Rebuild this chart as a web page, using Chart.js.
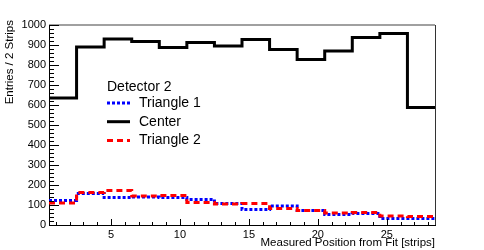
<!DOCTYPE html>
<html>
<head>
<meta charset="utf-8">
<script src="https://cdn.jsdelivr.net/npm/chart.js@4.4.1/dist/chart.umd.min.js"></script>
<style>
  html, body { margin: 0; padding: 0; background: #fff; }
</style>
</head>
<body>
<canvas id="myChart" width="484" height="250"></canvas>
<script>
// bin edges (2 strips per bin) and histogram contents
const binEdges = [0.5, 2.5, 4.5, 6.5, 8.5, 10.5, 12.5, 14.5, 16.5, 18.5, 20.5, 22.5, 24.5, 26.5, 28.5];
const center    = [635, 890, 930, 917, 887, 913, 895, 928, 878, 828, 870, 937, 957, 587];
const triangle1 = [122, 158, 137, 140, 137, 128, 107, 77, 95, 73, 53, 58, 33, 33];
const triangle2 = [110, 163, 173, 145, 147, 113, 105, 108, 82, 72, 60, 63, 45, 42];
const xTickLabels = [5, 10, 15, 20, 25];
const legendTitle = 'Detector 2';

const FONT = '"Liberation Sans", Arial, sans-serif';

// step points: value of each bin starts at its left edge, last one repeated at the right edge
function toSteps(vals) {
  return binEdges.map((e, i) => ({ x: e, y: vals[Math.min(i, vals.length - 1)] }));
}

const ctx = document.getElementById('myChart');

// ROOT-like frame, inner ticks, axis titles and legend
const rootStyle = {
  id: 'rootStyle',
  afterDraw(chart) {
    const c = chart.ctx;
    const a = chart.chartArea;
    const x = chart.scales.x, y = chart.scales.y;
    c.save();
    // top + right frame
    c.strokeStyle = '#a0a0a0';
    c.lineWidth = 2;
    c.beginPath();
    c.moveTo(a.left, a.top); c.lineTo(a.right, a.top);
    c.stroke();
    c.strokeStyle = '#333';
    c.lineWidth = 1;
    c.beginPath();
    c.moveTo(a.right + 0.5, a.top); c.lineTo(a.right + 0.5, a.bottom);
    c.stroke();

    // ticks
    c.strokeStyle = '#000';
    c.lineWidth = 1;
    c.beginPath();
    for (let v = 0; v <= 1000; v += 20) {
      const py = Math.round(y.getPixelForValue(v)) + 0.5;
      const len = v % 100 === 0 ? 10 : 5;
      c.moveTo(a.left, py); c.lineTo(a.left + len, py);
    }
    for (let v = 1; v <= 28; v++) {
      const px = Math.round(x.getPixelForValue(v)) + 0.5;
      const len = v % 5 === 0 ? 6 : 3;
      c.moveTo(px, a.bottom); c.lineTo(px, a.bottom - len);
    }
    c.stroke();

    // axis titles
    c.fillStyle = '#000';
    c.font = '11.5px ' + FONT;
    c.textAlign = 'right';
    c.textBaseline = 'alphabetic';
    c.fillText('Measured Position from Fit [strips]', a.right, 246);
    c.save();
    c.translate(13, 20);
    c.rotate(-Math.PI / 2);
    c.textAlign = 'right';
    c.fillText('Entries / 2 Strips', 0, 0);
    c.restore();

    // legend
    c.font = '14px ' + FONT;
    c.textAlign = 'left';
    c.textBaseline = 'middle';
    c.fillText(legendTitle, 107, 87);
    const entries = chart.data.datasets.map(d => d).sort((p, q) => p.legendPos - q.legendPos);
    entries.forEach((d, i) => {
      const ly = 103 + i * 18.7;
      c.strokeStyle = d.borderColor;
      c.lineWidth = d.borderWidth;
      c.setLineDash(d.borderDash || []);
      c.beginPath();
      c.moveTo(107, ly); c.lineTo(130, ly);
      c.stroke();
      c.setLineDash([]);
      c.fillText(d.label, 139, ly);
    });
    c.restore();
  }
};

new Chart(ctx, {
  type: 'line',
  data: {
    datasets: [{
      label: 'Triangle 2',
      data: toSteps(triangle2),
      borderColor: '#ff0000',
      borderWidth: 3,
      borderDash: [6, 4],
      stepped: 'before',
      pointRadius: 0,
      order: 0,
      legendPos: 2
    }, {
      label: 'Triangle 1',
      data: toSteps(triangle1),
      borderColor: '#0000ff',
      borderWidth: 3,
      borderDash: [3, 2],
      stepped: 'before',
      pointRadius: 0,
      order: 1,
      legendPos: 0
    }, {
      label: 'Center',
      data: toSteps(center),
      borderColor: '#000000',
      borderWidth: 3,
      stepped: 'before',
      pointRadius: 0,
      order: 2,
      legendPos: 1
    }]
  },
  options: {
    responsive: false,
    animation: false,
    layout: { padding: { top: 25, right: 49, left: 0, bottom: 0 } },
    plugins: { legend: { display: false }, tooltip: { enabled: false } },
    scales: {
      x: {
        type: 'linear',
        min: 0.5,
        max: 28.5,
        afterBuildTicks: s => { s.ticks = xTickLabels.map(v => ({ value: v })); },
        afterFit: s => { s.height = 25; },
        grid: { display: false, drawTicks: false },
        border: { display: true, color: '#000', width: 1 },
        ticks: { color: '#000', font: { family: FONT, size: 11 }, padding: 3, maxRotation: 0, callback: v => String(v) }
      },
      y: {
        min: 0,
        max: 1000,
        afterFit: s => { s.width = 49; },
        grid: { display: false, drawTicks: false },
        border: { display: true, color: '#000', width: 1 },
        ticks: { stepSize: 100, color: '#000', font: { family: FONT, size: 11 }, padding: 3, callback: v => String(v) }
      }
    }
  },
  plugins: [rootStyle]
});
</script>
</body>
</html>
